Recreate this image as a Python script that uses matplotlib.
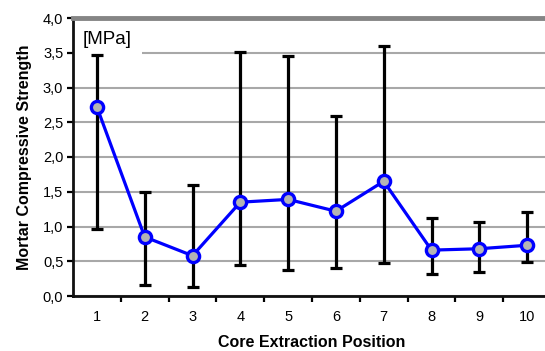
import matplotlib.pyplot as plt
import numpy as np
from matplotlib.patches import Rectangle
from matplotlib.ticker import FixedLocator, FuncFormatter

# data
positions = [1, 2, 3, 4, 5, 6, 7, 8, 9, 10]
strength = [2.72, 0.85, 0.58, 1.35, 1.39, 1.22, 1.65, 0.66, 0.68, 0.73]
err_top = [3.47, 1.50, 1.60, 3.51, 3.46, 2.59, 3.60, 1.12, 1.07, 1.21]
err_bottom = [0.97, 0.16, 0.13, 0.45, 0.37, 0.40, 0.47, 0.32, 0.35, 0.49]
y_ticks = [0.0, 0.5, 1.0, 1.5, 2.0, 2.5, 3.0, 3.5, 4.0]

plt.rcParams["font.family"] = ["Liberation Sans", "DejaVu Sans"]

fig = plt.figure(figsize=(5.45, 3.51), dpi=100)
# right edge of the plot area runs past the image, as in the reference
ax = fig.add_axes([73 / 545, 55 / 351, 478 / 545, 278 / 351])

x = np.array(positions)
y = np.array(strength)
lower = y - np.array(err_bottom)
upper = np.array(err_top) - y

ax.errorbar(x, y, yerr=[lower, upper], fmt="none", ecolor="black",
            elinewidth=2.3, capsize=4.3, capthick=2.3, zorder=3)
ax.plot(x, y, color="#0000ff", lw=2.3, marker="o", markersize=8.8,
        markerfacecolor="#b4b4b4", markeredgecolor="#0000ff",
        markeredgewidth=2.4, zorder=4)

ax.set_xlim(0.5, 10.5)
ax.set_ylim(0, 4.0)
ax.yaxis.set_major_locator(FixedLocator(y_ticks))
ax.yaxis.set_major_formatter(FuncFormatter(lambda v, _: f"{v:.1f}".replace(".", ",")))
ax.xaxis.set_major_locator(FixedLocator(positions))
ax.xaxis.set_minor_locator(FixedLocator([p + 0.5 for p in positions[:-1]]))

ax.grid(axis="y", color="#a8a8a8", lw=1.5, zorder=0)
ax.set_axisbelow(True)

for side in ["left", "bottom"]:
    ax.spines[side].set_color("#111111")
    ax.spines[side].set_linewidth(2.0)
ax.spines["top"].set_color("#858585")
ax.spines["top"].set_linewidth(3.5)
ax.spines["right"].set_visible(False)

ax.tick_params(axis="y", direction="out", length=4, width=1.6, labelsize=10.5, pad=3)
ax.tick_params(axis="x", which="major", length=0, labelsize=10.5, pad=10)
ax.tick_params(axis="x", which="minor", direction="out", length=4, width=1.6)

ax.set_xlabel("Core Extraction Position", fontsize=11.5, fontweight="bold", labelpad=8)
ax.set_ylabel("Mortar Compressive Strength", fontsize=11.5, fontweight="bold", labelpad=8)

# white patch that breaks the 3,5 grid line behind the unit label
ax.add_patch(Rectangle((0.5, 3.42), 1.45, 0.5, facecolor="white",
                       edgecolor="none", zorder=1.5))
ax.text(0.70, 3.82, "[MPa]", fontsize=13.5, va="top", ha="left", zorder=2)

fig.savefig("out.png", dpi=100)
